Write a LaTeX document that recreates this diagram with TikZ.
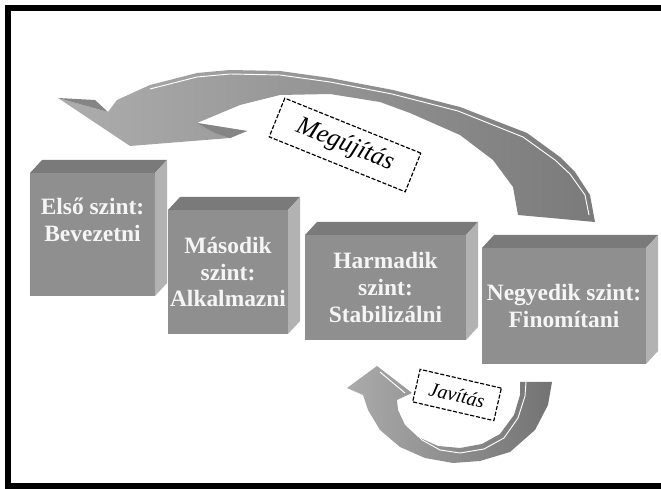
\documentclass[tikz,border=0pt]{standalone}
\usepackage{fontspec}
\setmainfont{Liberation Serif}
\usepackage{tikz}

\begin{document}
\begin{tikzpicture}[x=.03cm,y=-.03cm,
    level/.style={fill=black!44,text=black!4,inner sep=0pt,outer sep=0pt,align=center,
      font=\fontsize{20}{23}\selectfont\bfseries},
    leveltop/.style={fill=black!52},
    levelside/.style={fill=black!30},
    tag/.style={draw,dash pattern=on 3.5pt off 1.5pt,line width=1pt,fill=white,inner sep=2pt}]
      \useasboundingbox (0,0) rectangle (661,489);
      \fill[white] (0,0) rectangle (661,489);
      \draw[line width=.18cm] (664,8) -- (8,8) -- (8,486) -- (664,486);
      % Megujitas arrow
      \shade[left color=black!32,right color=black!52] (595,222) -- (590,195) -- (575,172) -- (560,157) -- (527,133)
        -- (460,107) -- (393,90) -- (330,78) -- (280,71) -- (230,70) -- (197,73) -- (150,85) -- (117,100)
        -- (108,112) -- (58,98) -- (130,146) -- (230,138) -- (247,131) -- (197,123) -- (240,105) -- (280,95)
        -- (330,94) -- (380,102) -- (410,113) -- (460,135) -- (493,160) -- (513,187) -- (518,215) -- cycle;
      \fill[black!48] (58,98) -- (108,112) -- (95,100) -- cycle;
      \fill[black!48] (197,123) -- (247,131) -- (230,138) -- (215,133) -- cycle;
      \draw[white,thick] (589,215) -- (585,195) -- (570,174) -- (555,160) -- (523,137) -- (458,111)
        -- (392,94) -- (330,82) -- (280,75) -- (230,74) -- (197,77) -- (150,89);
      % Javitas arrow
      \shade[left color=black!33,right color=black!55] (552,382) -- (548,405) -- (535,430) -- (510,452) -- (480,461)
        -- (453,463) -- (425,458) -- (400,447) -- (380,430) -- (368,410) -- (363,395) -- (347,388) -- (377,366)
        -- (412,393) -- (397,400) -- (398,410) -- (405,425) -- (418,437) -- (438,446) -- (460,448) -- (482,444)
        -- (500,434) -- (514,415) -- (520,395) -- (520,382) -- cycle;
      \draw[white,thick] (380,372) -- (405,393);
      \draw[white,thick] (402,405) -- (409,426) -- (422,440) -- (440,450) -- (460,453) -- (484,449)
        -- (504,438) -- (518,418) -- (525,396) -- (526,382);
      % levels
      \node[level,minimum width=3.75cm,minimum height=3.69cm] (b1) at (92.5,234.5) {Első szint:\\Bevezetni\\[.1cm]};
      \node[level,minimum width=3.6cm,minimum height=3.72cm] (b2) at (228,272) {Második\\szint:\\Alkalmazni};
      \node[level,minimum width=4.83cm,minimum height=3.15cm] (b3) at (385.5,287.5) {Harmadik\\szint:\\Stabilizálni};
      \node[level,minimum width=4.92cm,minimum height=3.48cm] (b4) at (564,306) {Negyedik szint:\\Finomítani};
      \foreach \b in {b1,b2,b3,b4} {
        \fill[leveltop] (\b.north west) -- ([shift={(12,-13)}]\b.north west) -- ([shift={(12,-13)}]\b.north east) -- (\b.north east) -- cycle;
        \fill[levelside] (\b.north east) -- ([shift={(12,-13)}]\b.north east) -- ([shift={(12,-13)}]\b.south east) -- (\b.south east) -- cycle;
      }
      % labels
      \node[tag,rotate=-22,minimum width=4.4cm,minimum height=1.25cm,font=\fontsize{22}{24}\selectfont\itshape] (renew) at (345,145) {Megújítás};
      \node[tag,rotate=-13,minimum width=2.5cm,minimum height=1cm,font=\fontsize{17}{19}\selectfont\itshape] (fix) at (457,395) {Javítás};
    \end{tikzpicture}
\end{document}
